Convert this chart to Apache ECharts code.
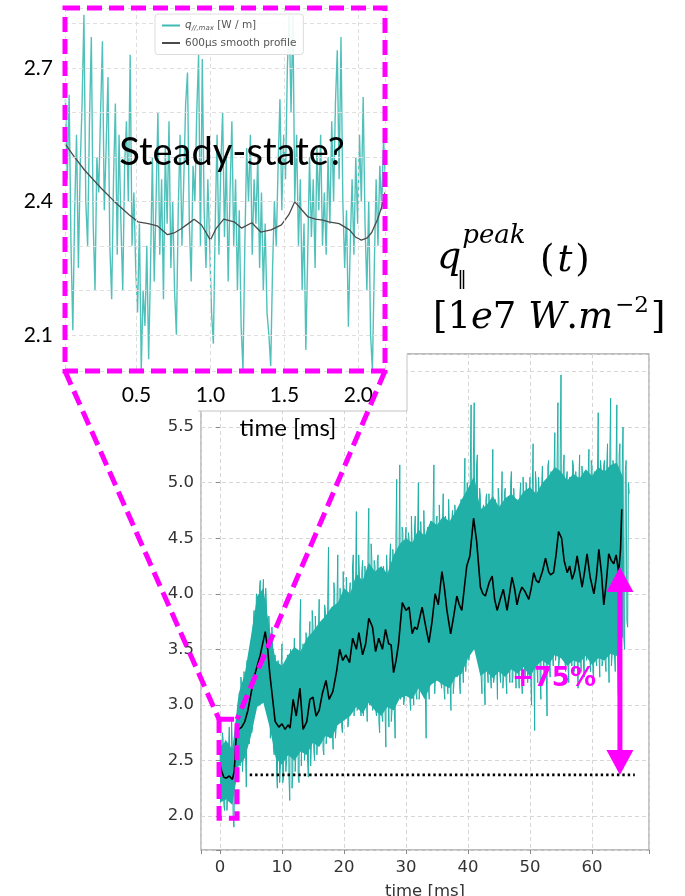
<!DOCTYPE html>
<html>
<head>
<meta charset="utf-8">
<script src="https://cdn.jsdelivr.net/npm/echarts@6/dist/echarts.min.js"></script>
<style>
html,body{margin:0;padding:0;background:#fff;}
#c{width:685px;height:896px;}
</style>
</head>
<body>
<div id="c"></div>
<script>
// ---------------- DATA ----------------
// Inset: q_parallel,max over the first ~2.2 ms (sample start / spacing in ms)
const insetStart = 0.02;
const insetStep = 0.0125;
const insetSignal = [
  2.63,2.45,2.64,2.30,2.11,2.38,2.55,2.25,2.48,2.62,
  2.82,2.40,2.30,2.58,2.77,2.35,2.20,2.50,2.42,2.60,
  2.76,2.38,2.52,2.68,2.30,2.18,2.45,2.62,2.28,2.55,
  2.35,2.20,2.48,2.58,2.40,2.73,2.30,2.42,2.25,2.15,
  2.35,2.02,2.20,2.12,2.30,2.045,2.25,2.50,2.22,2.40,
  2.60,2.28,2.45,2.18,2.52,2.35,2.58,2.25,2.40,2.20,
  2.10,2.38,2.55,2.30,2.45,2.62,2.69,2.35,2.22,2.48,
  2.40,2.60,2.73,2.30,2.72,2.38,2.25,2.45,2.30,2.15,
  2.08,2.35,2.55,2.28,2.48,2.60,2.32,2.50,2.22,2.42,
  2.58,2.30,2.45,2.20,2.38,2.12,2.02,2.30,2.52,2.40,
  2.55,2.28,2.45,2.35,2.50,2.25,2.42,2.20,2.35,2.15,
  2.10,2.03,2.25,2.40,2.30,2.48,2.63,2.38,2.55,2.45,
  2.70,2.82,2.60,2.82,2.40,2.55,2.30,2.45,2.20,2.35,
  2.066,2.28,2.50,2.32,2.45,2.25,2.52,2.38,2.55,2.30,
  2.42,2.28,2.50,2.35,2.58,2.40,2.62,2.74,2.45,2.77,
  2.40,2.25,2.38,2.118,2.30,2.45,2.28,2.50,2.35,2.55,
  2.40,2.635,2.35,2.20,2.40,2.10,2.02,2.25,2.45,2.30,
  2.48,2.38,2.54,2.45
];
// Inset: 600 us smooth profile [time ms, value]
const insetSmooth = [
  [0.017,2.53],[0.08,2.50],[0.15,2.47],[0.26,2.43],[0.35,2.40],[0.45,2.37],[0.51,2.354],
  [0.58,2.35],[0.64,2.345],[0.71,2.325],[0.76,2.33],[0.80,2.338],[0.85,2.35],[0.89,2.36],
  [0.94,2.347],[0.97,2.33],[1.00,2.313],[1.04,2.34],[1.09,2.36],[1.16,2.354],[1.21,2.34],
  [1.28,2.352],[1.34,2.331],[1.41,2.336],[1.48,2.347],[1.53,2.37],[1.57,2.399],[1.62,2.38],
  [1.66,2.365],[1.71,2.36],[1.76,2.358],[1.80,2.354],[1.87,2.35],[1.94,2.336],[1.98,2.32],
  [2.02,2.313],[2.06,2.318],[2.09,2.33],[2.13,2.36],[2.16,2.39],[2.18,2.42]
];
const insetXTickLabels = ['0.5','1.0','1.5','2.0'];
const insetYTickLabels = ['2.1','2.4','2.7'];

// Main: q_parallel peak, samples on the quarter-millisecond (t = 0, 0.25, 0.5 ...)
const mainStep = 0.25;
const mainSignal = [
  2.62,2.18,2.70,2.05, 2.55,2.20,2.80,2.25, 2.60,1.90,2.70,2.35, 3.05,2.45,3.15,2.55,
  3.20,2.26,3.10,2.65, 3.55,2.80,3.85,2.95, 3.95,3.05,4.12,3.15, 4.13,3.20,3.90,3.00,
  3.65,2.90,3.50,2.55, 3.30,2.25,3.20,2.45, 3.55,2.35,3.25,2.50, 3.30,2.14,3.45,2.40,
  3.60,2.55,3.35,2.30, 3.95,2.45,3.50,2.60, 3.55,2.35,3.75,2.65, 3.70,2.50,3.60,2.70,
  3.95,2.65,3.70,2.55, 3.85,2.75,4.42,2.70, 3.80,2.60,4.00,2.80, 4.35,2.90,4.05,2.75,
  4.20,3.00,3.95,2.85, 4.10,2.95,4.35,3.05, 4.74,3.00,4.15,2.90, 4.30,3.05,4.10,2.85,
  4.77,3.15,4.30,2.95, 4.25,2.90,4.35,2.75, 4.20,2.85,4.10,2.62, 4.15,2.80,4.45,2.95,
  4.20,2.70,5.03,3.05, 5.16,3.15,4.55,3.05, 4.60,3.10,4.50,2.95, 4.40,3.00,4.70,3.05,
  5.00,3.15,4.45,3.10, 4.50,2.70,4.60,3.05, 4.65,3.20,5.16,3.25, 4.70,3.30,4.55,3.15,
  4.90,3.05,4.50,3.10, 4.60,2.95,4.75,3.20, 4.70,3.25,4.55,3.10, 4.80,3.20,5.22,3.40,
  5.00,3.45,5.70,3.55, 5.72,3.60,5.25,3.35, 4.87,3.10,4.80,3.00, 4.90,3.20,4.70,3.15,
  5.30,3.25,4.75,3.05, 4.85,3.20,5.10,3.25, 4.95,3.10,4.70,3.20, 5.10,3.25,4.80,3.15,
  4.75,3.15,5.00,3.10, 4.90,3.25,4.85,3.20, 5.05,3.00,5.35,2.77, 5.00,3.20,4.90,3.05,
  5.15,3.30,4.95,2.90, 5.20,3.25,5.05,3.35, 5.45,3.50,5.72,3.40, 5.97,3.45,5.25,3.30,
  5.10,3.20,5.00,3.35, 5.15,3.40,4.95,3.15, 5.25,3.30,5.05,3.25, 5.10,3.40,5.30,3.30,
  5.15,3.20,5.00,3.35, 5.63,3.25,5.10,3.40, 5.20,3.30,5.35,3.20, 5.76,3.45,5.15,3.30,
  5.70,3.09,5.35,3.45, 5.50,3.50,5.20,3.70, 4.90
];
// Main: samples between those (t = 0.125, 0.375, 0.625 ...)
const mainSignalMid = [
  2.25,2.75,2.10,2.68, 2.05,2.60,2.30,2.85, 2.00,2.55,2.45,2.95, 2.50,3.25,2.40,3.30,
  2.55,3.40,2.70,3.35, 2.75,3.70,2.95,4.00, 3.00,4.05,3.10,3.90, 3.05,4.05,3.20,3.80,
  2.70,3.70,2.60,3.45, 2.40,3.40,2.30,3.35, 2.30,3.25,2.40,3.45, 2.35,3.50,2.25,3.30,
  2.40,3.45,2.35,3.70, 2.45,3.55,2.50,3.65, 2.50,3.60,2.45,3.85, 2.60,3.80,2.55,3.65,
  2.70,3.75,2.60,3.90, 2.65,3.95,2.80,3.85, 2.75,4.10,2.70,3.95, 2.85,4.05,2.80,4.20,
  2.90,4.15,2.80,4.00, 3.00,4.25,2.90,4.10, 2.95,4.35,3.00,4.20, 2.90,4.25,3.05,4.40,
  3.00,4.45,2.95,4.30, 2.95,4.30,2.85,4.15, 2.90,4.25,2.95,4.35, 3.00,4.30,2.85,4.40,
  2.95,4.50,3.10,4.35, 3.05,4.60,3.00,4.45, 3.10,4.55,3.05,4.70, 3.15,4.60,3.10,4.55,
  3.05,4.65,3.20,4.75, 3.10,4.55,3.15,4.60, 3.20,4.70,3.10,4.65, 3.25,4.80,3.20,4.60,
  3.15,4.70,3.30,4.85, 3.20,4.65,3.10,4.80, 3.30,4.75,3.20,4.85, 3.35,4.90,3.30,5.00,
  3.40,5.10,3.55,5.25, 3.50,5.15,3.40,4.95, 3.25,4.75,3.20,4.85, 3.30,4.90,3.25,4.80,
  3.20,4.85,3.35,4.95, 3.30,4.80,3.15,4.90, 3.25,4.85,3.35,5.00, 3.20,4.95,3.30,4.85,
  3.35,4.90,3.25,5.05, 3.30,5.00,3.20,4.90, 3.25,4.95,3.35,5.10, 3.35,5.05,3.25,4.95,
  3.40,5.00,3.30,5.15, 3.35,5.10,3.45,5.05, 3.40,5.20,3.35,5.30, 3.50,5.15,3.40,5.05,
  3.35,5.05,3.45,5.20, 3.30,5.10,3.40,5.00, 3.45,5.15,3.35,5.10, 3.40,5.05,3.50,5.20,
  3.35,5.10,3.40,5.05, 3.45,5.20,3.35,5.15, 3.40,5.15,3.50,5.25, 3.35,5.20,3.45,5.10,
  3.40,5.25,3.55,5.15, 3.60,5.10,3.75,5.00
];
// Main: dense core of the signal, one reading per millisecond (lower edge, upper edge)
const coreTime = [0,1,2,3,4,5,6,7,8,9,10,11,12,13,14,15,16,17,18,19,20,21,22,23,24,25,26,27,28,29,30,31,32,33,
  34,35,36,37,38,39,40,41,42,43,44,45,46,47,48,49,50,51,52,53,54,55,56,57,58,59,60,61,62,63,64,65];
const coreLow = [2.12,2.15,2.10,2.45,2.52,2.72,2.98,3.02,2.80,2.52,2.46,2.55,2.50,2.58,2.55,2.66,2.62,2.72,2.70,2.82,
  2.86,2.90,2.98,2.92,3.02,2.95,2.90,2.98,2.95,3.06,3.08,3.05,3.15,3.05,3.18,3.22,3.18,3.15,3.25,3.28,
  3.42,3.50,3.26,3.30,3.24,3.30,3.25,3.32,3.28,3.34,3.25,3.35,3.40,3.36,3.45,3.42,3.35,3.40,3.38,3.44,
  3.36,3.42,3.40,3.46,3.44,3.62];
const coreHigh = [2.62,2.68,2.60,3.10,3.28,3.62,3.98,4.05,3.68,3.40,3.35,3.45,3.52,3.48,3.60,3.66,3.74,3.80,3.88,3.92,
  4.05,4.00,4.18,4.12,4.28,4.20,4.25,4.18,4.35,4.45,4.50,4.46,4.58,4.52,4.66,4.62,4.70,4.65,4.74,4.85,
  4.95,5.06,4.76,4.80,4.88,4.78,4.86,4.90,4.84,4.92,4.96,4.90,5.00,5.06,5.14,5.10,5.02,5.08,5.04,5.12,
  5.06,5.14,5.10,5.16,5.18,5.05];
// Main: smoothed profile [time ms, value]
const mainSmooth = [
  [0,2.46],[0.3,2.40],[0.6,2.35],[1.0,2.34],[1.5,2.36],[2.0,2.33],[2.3,2.40],[2.6,2.70],
  [3.0,2.78],[3.5,2.80],[4.0,2.85],[4.5,2.95],[5.0,3.10],[5.5,3.25],[6.0,3.35],[6.5,3.45],
  [7.0,3.58],[7.3,3.66],[7.7,3.50],[8.0,3.30],[8.4,3.10],[8.9,2.85],[9.5,2.80],[10.0,2.83],
  [10.5,2.78],[11.0,2.82],[11.3,2.79],[11.8,3.05],[12.3,2.90],[12.9,3.15],[13.4,2.78],[14.0,2.85],
  [14.5,3.05],[15.0,3.07],[15.5,2.90],[16.0,2.95],[16.5,3.10],[17.1,3.22],[17.6,3.05],[18.2,3.12],
  [18.8,3.30],[19.3,3.50],[19.8,3.40],[20.3,3.45],[20.9,3.38],[21.4,3.60],[22.0,3.50],[22.4,3.65],
  [23.0,3.45],[23.5,3.55],[24.0,3.78],[24.6,3.70],[25.1,3.48],[25.6,3.60],[26.2,3.50],[26.7,3.68],
  [27.2,3.55],[27.6,3.54],[28.0,3.29],[28.4,3.40],[28.8,3.55],[29.4,3.92],[30.0,3.85],[30.5,3.88],
  [31.0,3.64],[31.4,3.70],[31.8,3.68],[32.2,3.78],[32.6,3.88],[33.2,3.70],[33.7,3.56],[34.2,3.75],
  [34.7,4.00],[35.2,3.90],[35.8,4.20],[36.2,4.05],[36.6,3.85],[37.2,3.64],[37.7,3.80],[38.2,3.98],
  [38.6,3.90],[39.0,3.85],[39.4,4.05],[39.8,4.25],[40.3,4.34],[40.9,4.68],[41.4,4.47],[42.0,4.06],
  [42.4,4.00],[42.8,3.98],[43.4,4.10],[43.9,4.16],[44.3,3.95],[44.7,3.85],[45.2,3.95],[45.7,4.04],
  [46.3,3.85],[46.7,4.00],[47.1,4.15],[47.5,4.05],[47.9,3.90],[48.3,4.00],[48.7,4.06],[49.2,4.02],
  [49.8,3.95],[50.2,4.05],[50.6,4.19],[51.0,4.12],[51.4,4.10],[52.0,4.20],[52.5,4.32],[53.0,4.20],
  [53.3,4.17],[53.8,4.19],[54.2,4.35],[54.6,4.56],[55.1,4.50],[55.5,4.30],[56.0,4.19],[56.4,4.25],
  [56.8,4.13],[57.2,4.20],[57.6,4.34],[58.0,4.20],[58.4,4.06],[58.8,4.20],[59.2,4.36],[59.7,4.15],
  [60.3,4.00],[60.7,4.15],[61.1,4.40],[61.5,4.20],[61.9,3.90],[62.3,4.10],[62.7,4.36],[63.1,4.30],
  [63.5,4.27],[63.9,4.35],[64.3,4.19],[64.6,4.40],[64.8,4.76]
];
const mainXTickLabels = ['0','10','20','30','40','50','60'];
const mainYTickLabels = ['2.0','2.5','3.0','3.5','4.0','4.5','5.0','5.5'];

// Annotations (data units of the main chart)
const baselineLevel = 2.37;
const baselineSpan = [4.8, 66.9];
const arrowTime = 64.5;
const arrowTop = 4.24;
const increaseLabel = '+75%';
const zoomBoxTime = [-0.15, 2.75];
const zoomBoxValue = [1.98, 2.87];

// ---------------- CHART ----------------
const chart = echarts.init(document.getElementById('c'), null, {renderer: 'canvas'});
const near = (list, v) => list.find(s => Math.abs(parseFloat(s) - v) < 1e-6) || '';

const TEAL = '#20b0a7';
const TEAL_LIGHT = '#3dbab2';

// interleave the two sample sets into one time series
const mainSeriesData = [];
mainSignal.forEach((v, i) => {
  mainSeriesData.push([i * mainStep, v]);
  if (i < mainSignalMid.length) mainSeriesData.push([i * mainStep + mainStep / 2, mainSignalMid[i]]);
});

const option = {
  animation: false,
  backgroundColor: '#ffffff',
  grid: [
    {left: 65, top: 8, width: 320, height: 363, show: false, containLabel: false, outerBoundsMode: 'none'},
    {left: 201, top: 354, width: 448, height: 496, show: true, containLabel: false, outerBoundsMode: 'none',
     borderColor: '#a8a8a8', borderWidth: 1.3, backgroundColor: 'transparent'}
  ],
  legend: {
    data: ['qmax', 'smooth600'],
    left: 155, top: 14, orient: 'vertical',
    itemGap: 6, itemWidth: 18, itemHeight: 2, icon: 'rect',
    backgroundColor: 'rgba(255,255,255,0.9)', borderColor: '#dddddd', borderWidth: 1, borderRadius: 3,
    padding: [6, 7, 6, 7],
    z: 12,
    textStyle: {
      fontFamily: 'DejaVu Sans', fontSize: 10.5, color: '#555',
      rich: {
        i: {fontFamily: 'DejaVu Sans', fontStyle: 'italic', fontSize: 10.5, color: '#555'},
        s: {fontFamily: 'DejaVu Sans', fontStyle: 'italic', fontSize: 7, color: '#555', padding: [5, 0, 0, 0]},
        n: {fontFamily: 'DejaVu Sans', fontSize: 10.5, color: '#555'}
      }
    },
    formatter: name => name === 'qmax' ? '{i|q}{s|//,max}{n| [W / m]}' : '{n|600μs smooth profile}'
  },
  xAxis: [
    {gridIndex: 0, type: 'value', min: 0.017, max: 2.18, minInterval: 0.5, maxInterval: 0.5, z: 10,
     axisLine: {show: false}, axisTick: {show: false},
     splitLine: {show: true, lineStyle: {color: '#dedede', width: 1, type: [4, 3]}},
     axisLabel: {margin: 14, color: '#000', fontFamily: 'Lato', fontSize: 21,
                 formatter: v => near(insetXTickLabels, v)}},
    {gridIndex: 1, type: 'value', min: -3.06, max: 69.19, minInterval: 10, maxInterval: 10,
     axisLine: {show: false},
     axisTick: {show: true, length: 4, lineStyle: {color: '#888'}},
     splitLine: {show: true, lineStyle: {color: '#d6d6d6', width: 1, type: [4, 3]}},
     axisLabel: {margin: 9, color: '#333', fontFamily: 'DejaVu Sans', fontSize: 16.5,
                 formatter: v => near(mainXTickLabels, v)},
     name: 'time [ms]', nameLocation: 'middle', nameGap: 33,
     nameTextStyle: {color: '#333', fontFamily: 'DejaVu Sans', fontSize: 16.5}}
  ],
  yAxis: [
    {gridIndex: 0, type: 'value', min: 2.0185, max: 2.835, minInterval: 0.1, maxInterval: 0.1, z: 10,
     axisLine: {show: false}, axisTick: {show: false},
     splitLine: {show: true, lineStyle: {color: '#dedede', width: 1, type: [4, 3]}},
     axisLabel: {margin: 12, color: '#000', fontFamily: 'Lato', fontSize: 21,
                 formatter: v => near(insetYTickLabels, v)}},
    {gridIndex: 1, type: 'value', min: 1.694, max: 6.158, minInterval: 0.5, maxInterval: 0.5,
     axisLine: {show: false},
     axisTick: {show: true, length: 4, lineStyle: {color: '#888'}},
     splitLine: {show: true, lineStyle: {color: '#d6d6d6', width: 1, type: [4, 3]}},
     axisLabel: {margin: 7, color: '#333', fontFamily: 'DejaVu Sans', fontSize: 16.5,
                 formatter: v => near(mainYTickLabels, v)}}
  ],
  series: [
    {name: 'qmax', type: 'line', xAxisIndex: 0, yAxisIndex: 0,
     data: insetSignal.map((v, i) => [insetStart + i * insetStep, v]),
     symbol: 'none', showSymbol: false, sampling: null, clip: true,
     lineStyle: {color: TEAL_LIGHT, width: 1.4, opacity: 0.9}, itemStyle: {color: TEAL_LIGHT}, z: 3},
    {name: 'smooth600', type: 'line', xAxisIndex: 0, yAxisIndex: 0, data: insetSmooth,
     symbol: 'none', showSymbol: false, clip: true,
     lineStyle: {color: '#4a4a4a', width: 1.3}, itemStyle: {color: '#4a4a4a'}, z: 4},
    {name: 'coreBand', type: 'custom', xAxisIndex: 1, yAxisIndex: 1,
     data: coreTime.map((t, i) => [t, coreLow[i], coreHigh[i]]),
     encode: {x: 0, y: [1, 2]}, clip: true, z: 2,
     renderItem: (params, api) => {
       if (params.dataIndex !== 0) return null;
       const upper = coreTime.map((t, i) => api.coord([t, coreHigh[i]]));
       const lower = coreTime.map((t, i) => api.coord([t, coreLow[i]])).reverse();
       return {type: 'polygon', shape: {points: upper.concat(lower)}, style: {fill: TEAL, stroke: null}};
     }},
    {name: 'mainSignal', type: 'line', xAxisIndex: 1, yAxisIndex: 1,
     data: mainSeriesData,
     symbol: 'none', showSymbol: false, clip: true, sampling: null,
     lineStyle: {color: TEAL, width: 1.0}, itemStyle: {color: TEAL}, z: 3},
    {name: 'mainSmooth', type: 'line', xAxisIndex: 1, yAxisIndex: 1, data: mainSmooth,
     symbol: 'none', showSymbol: false, clip: true,
     lineStyle: {color: '#000', width: 1.6}, itemStyle: {color: '#000'}, z: 4},
    {name: 'baseline', type: 'line', xAxisIndex: 1, yAxisIndex: 1,
     data: [[baselineSpan[0], baselineLevel], [baselineSpan[1], baselineLevel]],
     symbol: 'none', showSymbol: false,
     lineStyle: {color: '#000', width: 2.6, type: [2.4, 3]}, z: 5}
  ]
};
chart.setOption(option);

// ---------------- ANNOTATIONS ----------------
function textWidth(txt, font) {
  const ctx = document.createElement('canvas').getContext('2d');
  ctx.font = font;
  return ctx.measureText(txt).width;
}
function buildGraphics() {
  const P = (x, y) => chart.convertToPixel({xAxisIndex: 1, yAxisIndex: 1}, [x, y]);
  const MAG = '#ff00ff';
  const dashStyle = {stroke: MAG, lineWidth: 5, lineDash: [15, 7], fill: null};
  const g = [];

  // white patch under the inset tick labels
  g.push({type: 'rect', z: 3, shape: {x: 150, y: 340, width: 257, height: 71}, style: {fill: '#fff', stroke: null}});
  g.push({type: 'line', z: 3, shape: {x1: 198, y1: 411, x2: 407, y2: 411}, style: {stroke: '#c4c4c4', lineWidth: 1}});
  g.push({type: 'line', z: 3, shape: {x1: 407, y1: 354, x2: 407, y2: 411}, style: {stroke: '#c4c4c4', lineWidth: 1}});

  // inset frame, zoom box, connectors
  const ix0 = 65, iy0 = 8, ix1 = 385, iy1 = 371;
  g.push({type: 'rect', z: 100, shape: {x: ix0, y: iy0, width: ix1 - ix0, height: iy1 - iy0}, style: dashStyle});
  const tl = P(zoomBoxTime[0], zoomBoxValue[1]);
  const brc = P(zoomBoxTime[1], zoomBoxValue[0]);
  g.push({type: 'rect', z: 100, shape: {x: tl[0], y: tl[1], width: brc[0] - tl[0], height: brc[1] - tl[1]}, style: dashStyle});
  g.push({type: 'line', z: 100, shape: {x1: ix0, y1: iy1, x2: tl[0], y2: tl[1]}, style: dashStyle});
  g.push({type: 'line', z: 100, shape: {x1: ix1, y1: iy1, x2: brc[0], y2: tl[1]}, style: dashStyle});

  // double arrow
  const top = P(arrowTime, arrowTop);
  const bot = P(arrowTime, baselineLevel);
  const hw = 13.5, hh = 25;
  g.push({type: 'line', z: 100, shape: {x1: top[0], y1: top[1] + hh - 2, x2: bot[0], y2: bot[1] - hh + 2}, style: {stroke: MAG, lineWidth: 5}});
  g.push({type: 'polygon', z: 100, shape: {points: [[top[0], top[1]], [top[0] - hw, top[1] + hh], [top[0] + hw, top[1] + hh]]}, style: {fill: MAG}});
  g.push({type: 'polygon', z: 100, shape: {points: [[bot[0], bot[1]], [bot[0] - hw, bot[1] - hh], [bot[0] + hw, bot[1] - hh]]}, style: {fill: MAG}});
  g.push({type: 'text', z: 100, x: 554, y: 679, style: {text: increaseLabel, fill: MAG, font: 'bold 26px "DejaVu Sans"', align: 'center', verticalAlign: 'middle'}});

  // inset text
  g.push({type: 'text', z: 50, x: 232, y: 153, style: {text: 'Steady-state?', fill: '#000', font: '38px Lato', align: 'center', verticalAlign: 'middle'}});
  g.push({type: 'text', z: 50, x: 288, y: 428, style: {text: 'time [ms]', fill: '#000', font: '24px Lato', align: 'center', verticalAlign: 'middle'}});

  // quantity label (math)
  const SER = '"DejaVu Serif"';
  const fq = 'italic 38px ' + SER;
  const qx = 437;
  const wq = textWidth('q', fq);
  g.push({type: 'text', z: 50, x: qx, y: 258, style: {text: 'q', fill: '#000', font: fq, verticalAlign: 'middle'}});
  g.push({type: 'text', z: 50, x: qx + wq - 4, y: 279, style: {text: '\u2016', fill: '#000', font: '19px ' + SER, verticalAlign: 'middle'}});
  g.push({type: 'text', z: 50, x: qx + wq + 1, y: 236, style: {text: 'peak', fill: '#000', font: 'italic 26px ' + SER, verticalAlign: 'middle'}});
  g.push({type: 'text', z: 50, x: 540, y: 261, style: {
    text: '{u|(}{i|t}{u|)}', verticalAlign: 'middle',
    rich: {u: {font: '37px ' + SER, fill: '#000'}, i: {font: 'italic 37px ' + SER, fill: '#000', padding: [0, 3, 0, 3]}}}});

  const f2u = '37px ' + SER, f2i = 'italic 37px ' + SER;
  const parts = [['[1', f2u], ['e', f2i], ['7 ', f2u], ['W', f2i], ['.', f2u], ['m', f2i]];
  let x = 433;
  parts.forEach(([t, f]) => {
    g.push({type: 'text', z: 50, x: x, y: 318, style: {text: t, fill: '#000', font: f, verticalAlign: 'middle'}});
    x += textWidth(t, f);
  });
  const fs = '23px ' + SER;
  g.push({type: 'text', z: 50, x: x + 2, y: 306, style: {text: '\u22122', fill: '#000', font: fs, verticalAlign: 'middle'}});
  x += textWidth('\u22122', fs) + 4;
  g.push({type: 'text', z: 50, x: x, y: 318, style: {text: ']', fill: '#000', font: f2u, verticalAlign: 'middle'}});

  chart.setOption({graphic: {elements: g}});
}
buildGraphics();
</script>
</body>
</html>
